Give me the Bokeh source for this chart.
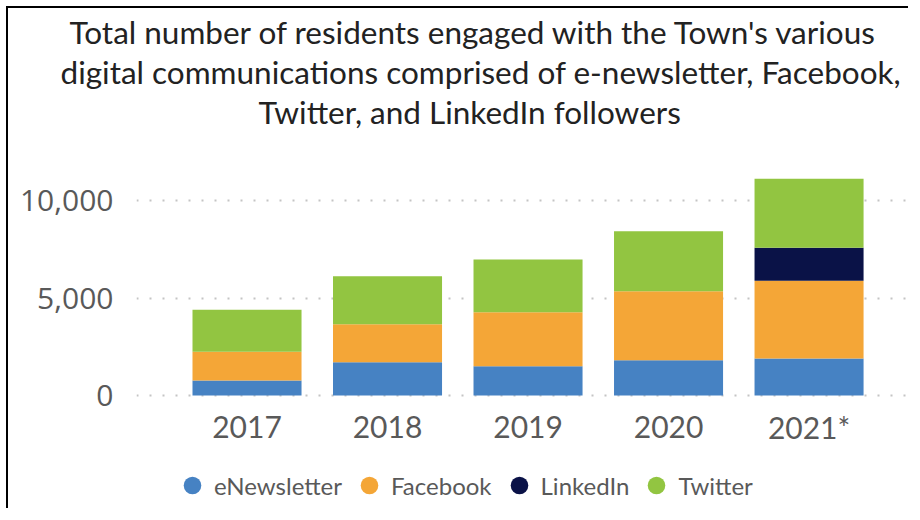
from bokeh.plotting import figure
from bokeh.models import (ColumnDataSource, Range1d, FixedTicker, NumeralTickFormatter,
                          Legend, LegendItem, Title)
from bokeh.core.properties import value
from bokeh.embed import file_html
from bokeh.resources import INLINE

# ---- data ----
years = ["2017", "2018", "2019", "2020", "2021*"]
series = ["eNewsletter", "Facebook", "LinkedIn", "Twitter"]
enewsletter = [770, 1705, 1500, 1810, 1895]
facebook = [1480, 1945, 2770, 3530, 3995]
linkedin = [0, 0, 0, 0, 1690]
twitter = [2150, 2460, 2710, 3080, 3530]
y_ticks = [0, 5000, 10000]
title_lines = [
    "Total number of residents engaged with the Town's various",
    "digital communications comprised of e-newsletter, Facebook,",
    "Twitter, and LinkedIn followers",
]
colors = ["#4682c3", "#f4a637", "#0a1247", "#92c541"]

# ---- layout constants (pixels) ----
W, H = 902, 502
FRAME_LEFT, FRAME_TOP = 128, 122
ZERO_Y = 387            # pixel row of value 0
PX_PER_UNIT = 195 / 10000
y_start = -(H - ZERO_Y) / PX_PER_UNIT
y_end = (ZERO_Y - FRAME_TOP) / PX_PER_UNIT

idx = list(range(len(years)))
source = ColumnDataSource(dict(x=idx, eNewsletter=enewsletter, Facebook=facebook,
                               LinkedIn=linkedin, Twitter=twitter))

p = figure(width=W, height=H, output_backend="svg", toolbar_location=None,
           x_range=Range1d(-0.7865, 4.722), y_range=Range1d(y_start, y_end),
           min_border_left=FRAME_LEFT, min_border_right=0, min_border_top=FRAME_TOP,
           min_border_bottom=0)
p.styles = {"border-top": "2px solid #000000", "border-left": "2px solid #000000",
            "margin-top": "6px", "margin-left": "6px"}
p.outline_line_color = None
p.background_fill_color = "white"
p.border_fill_color = "white"

p.vbar_stack(series, x="x", width=0.776, source=source, color=colors, line_color=None)

# category labels under the bars
p.text(x=idx, y=[y_ticks[0]] * len(idx), text=years, y_offset=31,
       text_align="center", text_baseline="alphabetic",
       text_font=value("Lato"), text_font_size="30px", text_color="#595959")

# legend proxies (no visible data)
items = []
for name, c in zip(series, colors):
    r = p.scatter(x=[float("nan")], y=[float("nan")], marker="circle", size=18,
                  fill_color=c, line_color=None)
    items.append(LegendItem(label=name, renderers=[r]))

legend = Legend(items=items, orientation="horizontal", location=(34, 3), nrows=1,
                glyph_width=44, glyph_height=44, label_standoff=0, spacing=5,
                label_text_font="Lato", label_text_font_size="24px",
                label_text_color="#595959", border_line_color=None,
                background_fill_alpha=0, padding=0, margin=0)
p.add_layout(legend, "center")

# axes
p.xaxis.visible = False

p.yaxis.ticker = FixedTicker(ticks=y_ticks)
p.yaxis.formatter = NumeralTickFormatter(format="0,0")
p.yaxis.axis_line_color = None
p.yaxis.major_tick_line_color = None
p.yaxis.minor_tick_line_color = None
p.yaxis.major_tick_out = 0
p.yaxis.major_label_text_font = "Open Sans"
p.yaxis.major_label_text_font_size = "30px"
p.yaxis.major_label_text_color = "#595959"
p.yaxis.major_label_standoff = 23

p.xgrid.grid_line_color = None
p.ygrid.ticker = FixedTicker(ticks=y_ticks)
p.ygrid.grid_line_color = "#c4c4c4"
p.ygrid.grid_line_width = 2
p.ygrid.grid_line_dash = "2 11"

# title lines, innermost first (left aligned, shifted to match the original)
title_offsets = [-67, -76, 122]
for t, off in reversed(list(zip(title_lines, title_offsets))):
    p.add_layout(Title(text=t, align="left", offset=off, standoff=0,
                       text_font="Lato", text_font_size="31.5px",
                       text_font_style="normal", text_color="#222222"), "above")

open("out.html", "w").write(file_html(p, INLINE))
